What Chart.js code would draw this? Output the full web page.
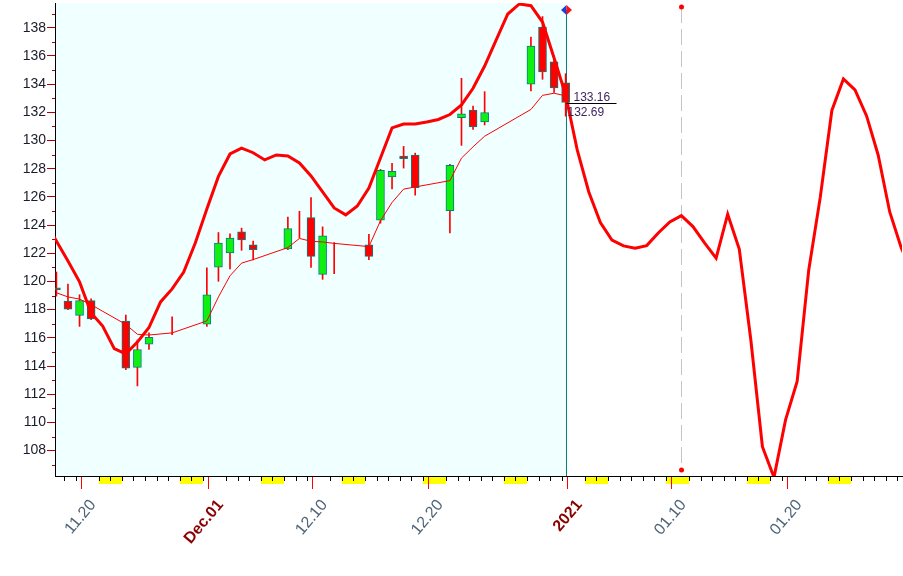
<!DOCTYPE html>
<html>
<head>
<meta charset="utf-8">
<script src="https://cdn.jsdelivr.net/npm/chart.js@4.4.0/dist/chart.umd.min.js"></script>
<style>
html, body { margin: 0; padding: 0; background: #fff; }
canvas { display: block; }
</style>
</head>
<body>
<canvas id="chart" width="903" height="576"></canvas>
<script>
// x unit = one calendar day, day 0 = 2020-11-17
const candleDays = [0, 1, 2, 3, 6, 7, 8, 10, 13, 14, 15, 16, 17, 20, 21, 22, 23, 24, 27, 28, 29, 30, 31, 34, 35, 36, 37, 41, 42, 43, 44];
const opens  = [119.55, 118.61, 117.59, 118.64, 117.18, 113.91, 115.55, 116.57, 116.97, 121.01, 122.02, 123.52, 122.60, 122.31, 124.37, 124.53, 120.50, 122.43, 122.60, 124.34, 127.41, 128.90, 128.96, 125.02, 131.61, 132.16, 131.32, 133.99, 138.05, 135.58, 134.08];
const highs  = [120.67, 119.82, 119.06, 118.77, 117.62, 115.85, 116.35, 117.49, 120.97, 123.47, 123.37, 123.78, 122.86, 124.57, 124.98, 125.95, 123.87, 122.76, 123.35, 127.95, 128.37, 129.58, 129.10, 128.31, 134.41, 132.43, 133.46, 137.34, 138.79, 135.99, 134.74];
const lows   = [118.96, 118.00, 116.81, 117.29, 113.75, 112.59, 115.17, 116.22, 116.81, 120.01, 120.89, 122.21, 121.52, 122.25, 123.09, 121.00, 120.15, 120.55, 121.54, 124.13, 126.56, 128.04, 126.12, 123.45, 129.65, 130.78, 131.10, 133.51, 134.34, 133.40, 131.72];
const closes = [119.39, 118.03, 118.64, 117.34, 113.85, 115.17, 116.03, 116.59, 119.05, 122.72, 123.08, 122.94, 122.25, 123.75, 124.38, 121.78, 123.24, 122.41, 121.78, 127.88, 127.81, 128.70, 126.66, 128.23, 131.88, 130.96, 131.97, 136.69, 134.87, 133.72, 132.69];
// thin red line, one value per candle
const avgLine = [119.2, 118.9, 118.75, 118.35, 116.95, 116.25, 116.2, 116.35, 117.2, 118.9, 120.4, 121.3, 121.55, 122.4, 123.05, 122.85, 122.8, 122.7, 122.47, 124.3, 125.6, 126.55, 126.7, 127.15, 128.75, 129.55, 130.3, 132.2, 133.2, 133.35, 133.16];

// thick red line, one value per calendar day starting at curveStart
const curveStart = -1;
const curveValues = [124.3, 122.87, 121.45, 119.97, 117.76, 116.84, 115.23, 114.86, 115.7, 116.73,
  118.55, 119.47, 120.67, 122.73, 125.14, 127.45, 129.04, 129.45, 129.13, 128.62,
  128.97, 128.9, 128.4, 127.48, 126.35, 125.21, 124.72, 125.35, 126.63, 128.76,
  130.89, 131.17, 131.17, 131.31, 131.49, 131.84, 132.52, 133.7, 135.28, 137.13,
  138.97, 139.68, 139.56, 138.4, 135.85, 133.23, 129.33, 126.35, 124.18, 122.94,
  122.52, 122.35, 122.54, 123.44, 124.22, 124.67, 123.89, 122.73, 121.65, 124.77,
  122.3, 115.85, 108.28, 106.1, 110.18, 112.9, 120.8, 125.98, 132.13, 134.36,
  133.58, 131.74, 128.97, 124.93, 122.38, 120.5];

const tickDays   = [3, 14, 23, 33, 45, 54, 64];
const tickLabels = ["11.20", "Dec.01", "12.10", "12.20", "2021", "01.10", "01.20"];
const boldDays   = [14, 45];
const weekendDays = [4, 11, 18, 25, 32, 39, 46, 53, 60, 67]; // saturdays
const markDay = 54;

const SHIFT = 0.34;   // bars sit a third into their day
const X_MIN = 0.22, X_MAX = 73.4;
const Y_MIN = 106.2, Y_MAX = 139.75;
const SANS = "'Liberation Sans', Arial, sans-serif";

const GREEN = '#10f010';
const TEAL = '#008080';

let wickData = candleDays.map((d, i) => ({x: d + SHIFT, y: [lows[i], highs[i]]}));
let bodyData = candleDays.map((d, i) => Math.abs(opens[i] - closes[i]) < 0.05 ? {x: d + SHIFT, y: null} : {x: d + SHIFT, y: [opens[i], closes[i]]});
let bodyColors = candleDays.map((d, i) => closes[i] >= opens[i] ? GREEN : 'red');
let avgData = candleDays.map((d, i) => ({x: d + SHIFT, y: avgLine[i]}));
let curveData = curveValues.map((v, i) => ({x: curveStart + i + SHIFT, y: v}));

const lastIdx = candleDays.length - 1;

function tickVal(c) {
  return c && c.tick ? c.tick.value : null;
}

// no extra room for the end labels, the plot runs edge to edge
function noPadding(s) {
  s.paddingLeft = 0;
  s.paddingRight = 0;
  s.paddingTop = 0;
  s.paddingBottom = 0;
}

const decor = {
  id: 'decor',
  beforeDraw(chart) {
    const {ctx, chartArea: a, scales: {x}} = chart;
    const xLast = x.getPixelForValue(candleDays[lastIdx] + SHIFT);
    ctx.save();
    ctx.fillStyle = '#f0ffff';
    ctx.fillRect(a.left, a.top, xLast - a.left, a.bottom - a.top);
    // weekend blocks under the axis
    ctx.fillStyle = '#ffff00';
    weekendDays.forEach(d => {
      const x0 = x.getPixelForValue(d), x1 = x.getPixelForValue(d + 2);
      ctx.fillRect(x0, a.bottom + 1, x1 - x0, 7);
    });
    // small day ticks
    ctx.strokeStyle = '#000';
    ctx.lineWidth = 1;
    for (let d = Math.ceil(X_MIN); d <= X_MAX; d++) {
      if (tickDays.includes(d)) continue;
      const px = Math.round(x.getPixelForValue(d)) + 0.5;
      ctx.beginPath();
      ctx.moveTo(px, a.bottom);
      ctx.lineTo(px, a.bottom + 5);
      ctx.stroke();
    }
    ctx.restore();
  },
  beforeDatasetsDraw(chart) {
    const {ctx, chartArea: a, scales: {x, y}} = chart;
    ctx.save();
    // minor y ticks
    ctx.strokeStyle = '#b00000';
    ctx.lineWidth = 1;
    for (let v = 107; v <= 139; v += 2) {
      const py = Math.round(y.getPixelForValue(v)) + 0.5;
      ctx.beginPath();
      ctx.moveTo(a.left - 3, py);
      ctx.lineTo(a.left, py);
      ctx.stroke();
    }
    const xLast = Math.round(x.getPixelForValue(candleDays[lastIdx] + SHIFT)) + 0.5;
    ctx.strokeStyle = TEAL;
    ctx.beginPath();
    ctx.moveTo(xLast, a.top + 7);
    ctx.lineTo(xLast, a.bottom);
    ctx.stroke();
    const xm = Math.round(x.getPixelForValue(markDay + SHIFT)) + 0.5;
    ctx.strokeStyle = '#c4c4c4';
    ctx.setLineDash([16, 6]);
    ctx.beginPath();
    ctx.moveTo(xm, a.top + 4);
    ctx.lineTo(xm, a.bottom - 6);
    ctx.stroke();
    ctx.setLineDash([]);
    ctx.fillStyle = 'red';
    [a.top + 4, a.bottom - 6].forEach(py => {
      ctx.beginPath();
      ctx.arc(xm, py, 2.5, 0, Math.PI * 2);
      ctx.fill();
    });
    ctx.restore();
  },
  afterDatasetsDraw(chart) {
    const {ctx, chartArea: a, scales: {x, y}} = chart;
    const xLast = Math.round(x.getPixelForValue(candleDays[lastIdx] + SHIFT)) + 0.5;
    ctx.save();
    // diamond marker
    const dy = a.top + 7;
    ctx.fillStyle = '#1a3ee0';
    ctx.beginPath();
    ctx.moveTo(xLast, dy - 5); ctx.lineTo(xLast - 5.5, dy); ctx.lineTo(xLast, dy + 5); ctx.closePath();
    ctx.fill();
    ctx.fillStyle = '#ff1010';
    ctx.beginPath();
    ctx.moveTo(xLast, dy - 5); ctx.lineTo(xLast + 5.5, dy); ctx.lineTo(xLast, dy + 5); ctx.closePath();
    ctx.fill();
    // last close line with values
    const yc = Math.round(y.getPixelForValue(closes[lastIdx])) + 0.5;
    ctx.strokeStyle = '#000';
    ctx.beginPath();
    ctx.moveTo(xLast, yc);
    ctx.lineTo(xLast + 50, yc);
    ctx.stroke();
    ctx.fillStyle = '#3a1f5d';
    ctx.font = '12px ' + SANS;
    ctx.textBaseline = 'alphabetic';
    ctx.fillText(avgLine[lastIdx].toFixed(2), xLast + 7, yc - 3);
    ctx.fillText(closes[lastIdx].toFixed(2), xLast + 1, yc + 12);
    ctx.restore();
  }
};

new Chart(document.getElementById('chart'), {
  data: {
    datasets: [
      {type: 'line', data: curveData, borderColor: 'red', borderWidth: 3, pointRadius: 0, tension: 0, order: 1},
      {type: 'line', data: avgData, borderColor: 'red', borderWidth: 1, pointRadius: 0, tension: 0, order: 2},
      {type: 'bar', data: bodyData, backgroundColor: bodyColors, borderColor: TEAL, borderWidth: 1,
        borderSkipped: false, barThickness: 8, grouped: false, order: 3},
      {type: 'bar', data: wickData, backgroundColor: 'red', barThickness: 1, grouped: false, order: 4}
    ]
  },
  options: {
    responsive: false,
    animation: false,
    layout: {padding: {top: 3, right: 1, left: 0, bottom: 0}},
    plugins: {legend: {display: false}, tooltip: {enabled: false}},
    scales: {
      x: {
        type: 'linear', min: X_MIN, max: X_MAX, offset: false,
        afterBuildTicks: s => {
          let t = [];
          for (let d = Math.ceil(X_MIN); d <= X_MAX; d++) t.push({value: d});
          s.ticks = t;
        },
        afterFit: s => { s.height = 100; noPadding(s); },
        border: {display: true, color: '#000', width: 1},
        grid: {
          drawOnChartArea: false, drawTicks: true, tickLength: 13,
          tickColor: c => tickDays.includes(tickVal(c)) ? 'red' : 'rgba(0,0,0,0)'
        },
        ticks: {
          autoSkip: false, minRotation: 50, maxRotation: 50, padding: 7, labelOffset: 6,
          callback: v => { const k = tickDays.indexOf(v); return k < 0 ? '' : tickLabels[k]; },
          color: c => boldDays.includes(tickVal(c)) ? '#8b0000' : '#4d6377',
          font: c => boldDays.includes(tickVal(c))
            ? {family: SANS, size: 16, weight: 'bold'}
            : {family: SANS, size: 16}
        }
      },
      y: {
        type: 'linear', min: Y_MIN, max: Y_MAX,
        afterBuildTicks: s => {
          let t = [];
          for (let v = 108; v <= 138; v += 2) t.push({value: v});
          s.ticks = t;
        },
        afterFit: s => { s.width = 55; noPadding(s); },
        border: {display: true, color: '#000', width: 1},
        grid: {drawOnChartArea: false, drawTicks: true, tickLength: 8, tickColor: '#b00000'},
        ticks: {padding: 1, color: '#1b1b2b', font: {family: SANS, size: 14}, callback: v => String(v)}
      }
    }
  },
  plugins: [decor]
});
</script>
</body>
</html>
